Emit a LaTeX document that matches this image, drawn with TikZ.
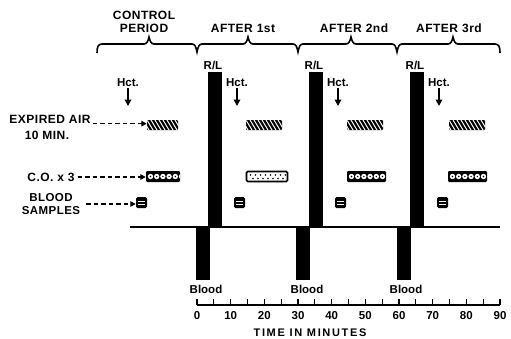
\documentclass[tikz,border=0pt]{standalone}
\usepackage{fontspec}
\setmainfont{Liberation Sans}
\usetikzlibrary{arrows.meta}
\begin{document}
\begin{tikzpicture}[x=1pt,y=-1pt,
  lab/.style={font=\fontsize{12}{12.5}\selectfont\bfseries\addfontfeature{LetterSpace=4}, inner sep=1pt, align=center},
  sm/.style={font=\fontsize{11.5}{12}\selectfont\bfseries, inner sep=1pt},
  bar/.style={rectangle, fill=black, inner sep=0, minimum width=14, minimum height=#1},
  hatchbox/.style={rectangle, rounded corners=1, fill=black, inner sep=0, minimum height=10, minimum width=#1,
    path picture={\foreach \i in {-12,-8,...,44}{\draw[white,line width=1] ([shift={(\i,0)}]path picture bounding box.north west) -- ++(6,10);}}},
  cobox/.style={rectangle, rounded corners=1.2, fill=black, inner sep=0, minimum height=11, minimum width=#1,
    path picture={\foreach \i in {0,...,7}{\fill[white] ([shift={(4.5+\i*6.2,5.5)}]path picture bounding box.north west) circle (2.7);
      \fill[black] ([shift={(4.5+\i*6.2,5.5)}]path picture bounding box.north west) circle (0.8);}}},
  dotbox/.style={rectangle, rounded corners=1.2, draw=black, line width=1.6, fill=white, inner sep=0, minimum height=10, minimum width=#1,
    path picture={\foreach \i in {0,...,7}{\fill[black] ([shift={(4+\i*5,3.5)}]path picture bounding box.north west) circle (0.9);
      \fill[black] ([shift={(6.5+\i*5,7)}]path picture bounding box.north west) circle (0.9);}}},
  bsbox/.style={rectangle, rounded corners=1.5, fill=black, inner sep=0, minimum width=11, minimum height=11,
    path picture={\draw[white,line width=1] ([shift={(2,4)}]path picture bounding box.north west) -- ++(7,0);
      \draw[white,line width=1] ([shift={(2,7)}]path picture bounding box.north west) -- ++(7,0);}},
  dasharrow/.style={line width=1.4, dash pattern=on 4.5pt off 3pt, -{Triangle[length=5.5pt,width=5.5pt]}},
  hctarrow/.style={line width=2, -{Triangle[length=6.5pt,width=6.5pt]}},
  downtip/.style={insert path={-- ({#1-5},44) .. controls ({#1-2},44) and ({#1-1},47) .. (#1,52) .. controls ({#1+1},47) and ({#1+2},44) .. ({#1+5},44)}},
  uptip/.style={insert path={-- ({#1-5},44) .. controls ({#1-2},44) and ({#1-1},41) .. (#1,37) .. controls ({#1+1},41) and ({#1+2},44) .. ({#1+5},44)}}
]
\useasboundingbox (0,0) rectangle (511,338);

% braces
\draw[line width=1.6] (97,53) .. controls (97,47) and (98,44) .. (102,44)
  [uptip=149] [downtip=197] [uptip=248] [downtip=298] [uptip=351] [downtip=397] [uptip=453]
  -- (495,44) .. controls (499,44) and (500,47) .. (500,53);

% top labels
\node[lab] (ctrl) at (144,22) {CONTROL\\PERIOD};
\node[lab] (a1) at (243,28) {AFTER\hspace{4pt}1st};
\node[lab] (a2) at (354,28) {AFTER\hspace{4pt}2nd};
\node[lab] (a3) at (449,28) {AFTER\hspace{4pt}3rd};

% base line
\draw[line width=1.5] (130,227) -- (500,227);

% R/L bars
\node[bar=155] (rl1) at (215,149.5) {};
\node[bar=155] (rl2) at (316,149.5) {};
\node[bar=155] (rl3) at (417,149.5) {};
\node[sm] (rlt1) at (213,65) {R/L};
\node[sm] (rlt2) at (314,65) {R/L};
\node[sm] (rlt3) at (415,65) {R/L};

% Blood bars
\node[bar=53] (bb1) at (203,253.5) {};
\node[bar=53] (bb2) at (303,253.5) {};
\node[bar=53] (bb3) at (404,253.5) {};
\node[sm] (bl1) at (206,289) {Blood};
\node[sm] (bl2) at (307,289) {Blood};
\node[sm] (bl3) at (406,289) {Blood};

% Hct
\foreach \x [count=\k] in {128,237,338,439}{
  \node[sm] (hct\k) at (\x,83) {Hct.};
  \coordinate (hctend\k) at (\x,106);
  \draw[hctarrow] (hct\k.south) -- (hctend\k);
}

% expired air boxes
\node[hatchbox=31] (ea1) at (162.5,125) {};
\node[hatchbox=36] (ea2) at (264,125) {};
\node[hatchbox=36] (ea3) at (365,125) {};
\node[hatchbox=36] (ea4) at (467,125) {};

% C.O. boxes
\node[cobox=34] (co1) at (163,176.5) {};
\node[dotbox=41] (co2) at (267,176.5) {};
\node[cobox=39] (co3) at (366.5,176.5) {};
\node[cobox=39] (co4) at (467.5,176.5) {};

% blood sample boxes
\node[bsbox] (bs1) at (141.5,202.5) {};
\node[bsbox] (bs2) at (239.5,202.5) {};
\node[bsbox] (bs3) at (340.5,202.5) {};
\node[bsbox] (bs4) at (442.5,202.5) {};

% left labels
\node[lab] (eal) at (50,119.5) {EXPIRED AIR};
\node[lab] (eal2) at (47,135) {10 MIN.};
\node[lab] (col) at (51,177) {C.O. x 3};
\node[lab, font=\fontsize{11.5}{13.5}\selectfont\bfseries\addfontfeature{LetterSpace=4}] (bsl) at (51,204) {BLOOD\\SAMPLES};

\draw[dasharrow] ([xshift=1pt]eal.base east) -- (eal.base east -| ea1.west);
\draw[dasharrow] ([xshift=2pt]col.east) -- (col.east -| co1.west);
\draw[dasharrow] ([xshift=5pt]bsl.east) -- (bsl.east -| bs1.west);

% time axis
\draw[line width=1.2] (197,305) -- (500,305);
\foreach \m in {0,5,...,90}{
  \draw[line width=1.2] ({197+\m*3.367},299) -- ({197+\m*3.367},305);
}
\foreach \m in {0,10,...,90}{
  \node[sm] (t\m) at ({197+\m*3.367},316) {\m};
}
\node[sm, font=\fontsize{11}{12}\selectfont\bfseries\addfontfeature{LetterSpace=15}] (tim) at (310,333) {TIME IN MINUTES};
\end{tikzpicture}
\end{document}
